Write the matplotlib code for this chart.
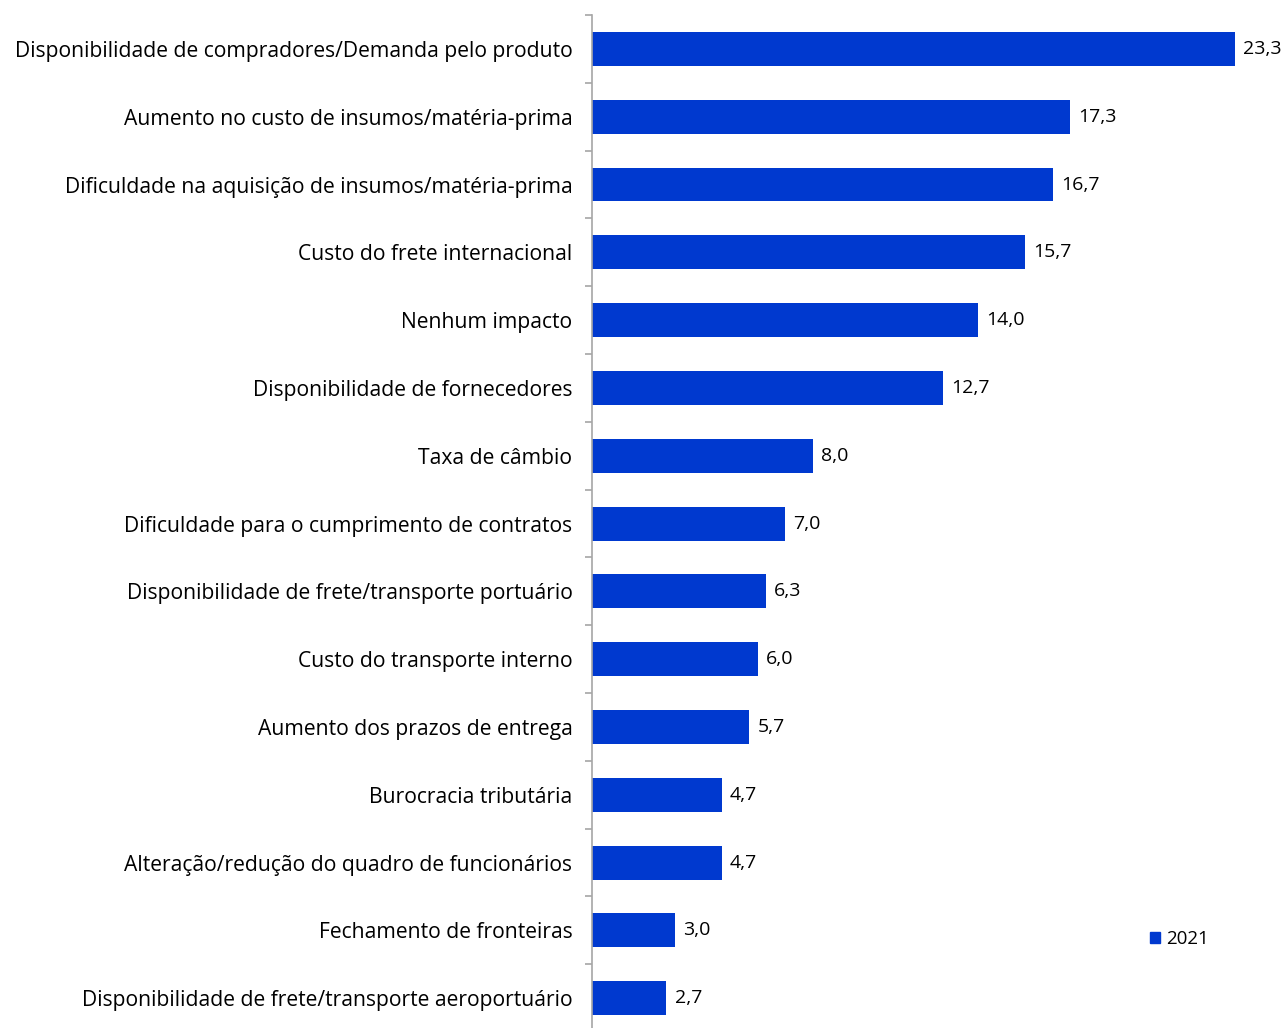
import matplotlib.pyplot as plt
from matplotlib.patches import Patch

categorias = [
    "Disponibilidade de compradores/Demanda pelo produto",
    "Aumento no custo de insumos/matéria-prima",
    "Dificuldade na aquisição de insumos/matéria-prima",
    "Custo do frete internacional",
    "Nenhum impacto",
    "Disponibilidade de fornecedores",
    "Taxa de câmbio",
    "Dificuldade para o cumprimento de contratos",
    "Disponibilidade de frete/transporte portuário",
    "Custo do transporte interno",
    "Aumento dos prazos de entrega",
    "Burocracia tributária",
    "Alteração/redução do quadro de funcionários",
    "Fechamento de fronteiras",
    "Disponibilidade de frete/transporte aeroportuário",
]
valores = [23.3, 17.3, 16.7, 15.7, 14.0, 12.7, 8.0, 7.0, 6.3, 6.0, 5.7, 4.7, 4.7, 3.0, 2.7]
serie = "2021"

azul = "#0039CF"
cinza = "#A6A6A6"

plt.rcParams['font.family'] = ['Open Sans', 'DejaVu Sans']

fig = plt.figure(figsize=(12.84, 10.28), dpi=100)
ax = fig.add_axes([0.461, -0.004, 0.539, 0.9894])

pos = list(range(len(categorias)))
ax.barh(pos, valores, height=0.5, color=azul)
for p, v in zip(pos, valores):
    ax.text(v + 0.3, p, f"{v:.1f}".replace(".", ","), va="center", ha="left", fontsize=14)

ax.set_xlim(0, 25.07)
ax.set_ylim(len(categorias) - 0.5, -0.5)
ax.set_yticks(pos)
ax.set_yticklabels(categorias, fontsize=15.2)
ax.tick_params(axis="y", which="major", length=0, pad=14)
ax.set_yticks([p - 0.5 for p in pos] + [len(pos) - 0.5], minor=True)
ax.tick_params(axis="y", which="minor", length=5, color=cinza, width=1.2)
ax.set_xticks([])
for s in ["top", "right", "bottom"]:
    ax.spines[s].set_visible(False)
ax.spines["left"].set_color(cinza)
ax.spines["left"].set_linewidth(1.2)

ax.legend(handles=[Patch(color=azul, label=serie)], loc="lower left",
          bbox_to_anchor=(0.782, 0.066), frameon=False, fontsize=13.5,
          handlelength=0.55, handleheight=0.55, handletextpad=0.3)

fig.savefig("out.png", dpi=100)
